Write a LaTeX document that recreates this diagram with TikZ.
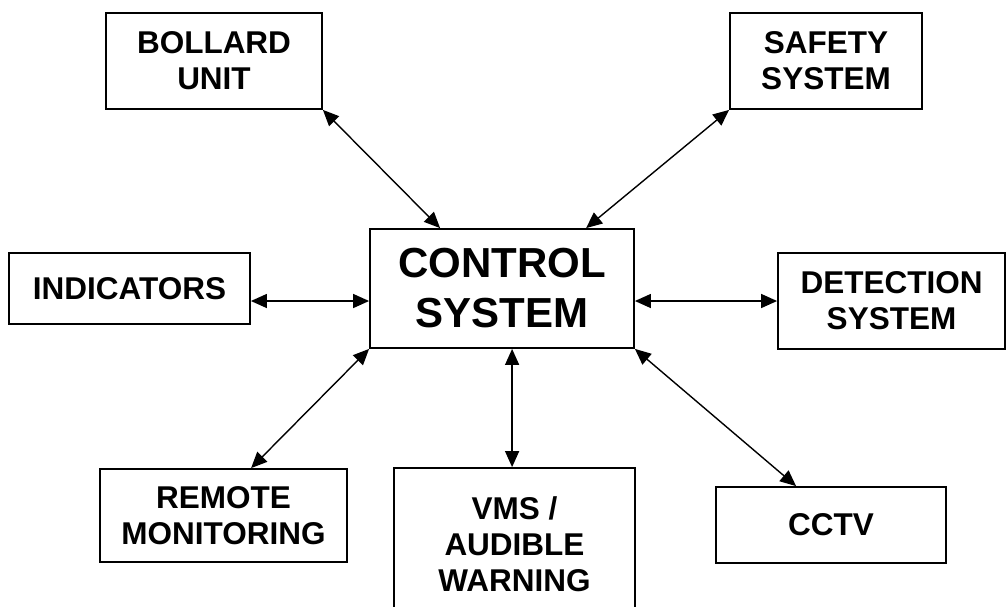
\documentclass[tikz,border=0pt]{standalone}
\usepackage{fontspec}
\setmainfont{Liberation Sans}
\usetikzlibrary{arrows.meta}
\begin{document}
\begin{tikzpicture}[x=1pt,y=-1pt,
  box/.style={draw, line width=1.8pt, inner sep=0pt, align=center,
    font=\fontsize{31.5}{36}\selectfont\bfseries},
  bigbox/.style={box, font=\fontsize{42}{50}\selectfont\bfseries},
  link/.style={line width=1.4pt, {Triangle[length=16pt,width=14pt]}-{Triangle[length=16pt,width=14pt]}}]
\useasboundingbox (0,0) rectangle (1007,606);
\node[bigbox, minimum width=264pt, minimum height=119pt] (ctrl) at (502,288.5) {CONTROL\\SYSTEM};
\node[box, minimum width=216pt, minimum height=96pt] (bollard) at (214,61) {BOLLARD\\UNIT};
\node[box, minimum width=192pt, minimum height=96pt] (safety) at (826,61) {SAFETY\\SYSTEM};
\node[box, minimum width=241pt, minimum height=71pt] (ind) at (129.5,288.5) {INDICATORS};
\node[box, minimum width=227pt, minimum height=96pt] (det) at (891.5,301) {DETECTION\\SYSTEM};
\node[box, minimum width=247pt, minimum height=93pt] (remote) at (223.5,515.5) {REMOTE\\MONITORING};
\node[box, minimum width=241pt, minimum height=152pt] (vms) at (514.5,544) {VMS /\\AUDIBLE\\WARNING};
\node[box, minimum width=230pt, minimum height=76pt] (cctv) at (831,525) {CCTV};
\draw[link] (bollard.south east) -- ([xshift=71pt]ctrl.north west);
\draw[link] (safety.south west) -- ([xshift=217pt]ctrl.north west);
\draw[link] ([yshift=-12.5pt]ind.east) -- ([yshift=-12.5pt]ctrl.west);
\draw[link] ([yshift=-12.5pt]ctrl.east) -- (det.west);
\draw[link] (ctrl.south west) -- ([xshift=152pt]remote.north west);
\draw[link] ([xshift=143pt]ctrl.south west) -- ([xshift=119pt]vms.north west);
\draw[link] (ctrl.south east) -- ([xshift=81pt]cctv.north west);
\end{tikzpicture}
\end{document}
